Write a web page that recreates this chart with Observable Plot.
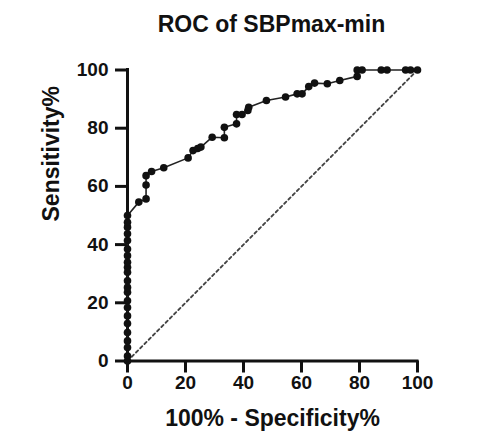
<!DOCTYPE html>
<html><head><meta charset="utf-8">
<script src="https://cdn.jsdelivr.net/npm/d3@7"></script>
<script src="https://cdn.jsdelivr.net/npm/@observablehq/plot@0.6"></script>
<style>
body{margin:0;background:#fff;font-family:"Liberation Sans",Arial,sans-serif;}
#title{width:491px;height:40px;box-sizing:border-box;padding-top:13px;padding-left:52px;text-align:center;font-weight:bold;font-size:23px;line-height:23px;color:#111;white-space:nowrap;}
</style></head><body>
<div id="title"></div>
<div id="chart"></div>
<script>
const titleText = "ROC of SBPmax-min";
const xLabel = "100% - Specificity%";
const yLabel = "Sensitivity%";
const xTicks = [0, 20, 40, 60, 80, 100];
const yTicks = [0, 20, 40, 60, 80, 100];
// 100% - Specificity% (x) and Sensitivity% (y) for each ROC point
const fpr = [0,0,0,0,0,0,0,0,0,0,0,0,0,0,0,0,0,0,0,0,0,0,
  3.9, 6.4, 6.4, 6.4, 8.3, 12.5, 20.9, 22.6, 24.2, 25.3, 29.2, 33.4, 33.4, 37.6, 37.6, 39.5, 41.5, 41.8,
  47.9, 54.5, 58.5, 60.2, 62.5, 64.5, 68.9, 73.2, 79.2, 79.2, 80.9, 87.5, 89.5, 95.9, 97.6, 100];
const tpr = [0, 1.7, 4.6, 6.9, 9.8, 12.9, 15.5, 18.4, 20.7, 23.6, 25.3, 27.6, 30.5, 32.2, 33.9, 36.2, 38.5, 41.4, 43.7, 46.0, 47.7, 50.0,
  54.6, 55.7, 60.5, 63.7, 65.1, 66.4, 69.8, 72.3, 73.0, 73.5, 76.9, 76.7, 80.3, 81.5, 84.7, 84.7, 86.1, 87.2,
  89.5, 90.7, 91.8, 91.8, 94.3, 95.5, 95.3, 96.4, 97.8, 100, 100, 100, 100, 100, 100, 100];
const chanceX = [0, 100];
const chanceY = [0, 100];

document.getElementById("title").textContent = titleText;
const roc = fpr.map((x, i) => ({x, y: tpr[i]}));
const chance = chanceX.map((x, i) => ({x, y: chanceY[i]}));

const chart = Plot.plot({
  width: 491, height: 401,
  marginLeft: 127, marginRight: 74, marginTop: 29.5, marginBottom: 80.5,
  style: {fontFamily: "'Liberation Sans', Arial, sans-serif", fontSize: "19px", fontWeight: "bold", color: "#111", background: "#fff", overflow: "visible"},
  x: {domain: [0, 100]},
  y: {domain: [0, 100]},
  marks: [
    Plot.line(chance, {x: "x", y: "y", stroke: "#444", strokeWidth: 1.8, strokeDasharray: "3,3"}),
    Plot.ruleX([0], {y1: 0, y2: 100, stroke: "#111", strokeWidth: 3, strokeLinecap: "square"}),
    Plot.ruleY([0], {x1: 0, x2: 100, stroke: "#111", strokeWidth: 3, strokeLinecap: "square"}),
    Plot.axisX({ticks: xTicks, tickSize: 12, tickPadding: 2, stroke: "#111", strokeWidth: 3, label: null, fontSize: 19, fontWeight: "bold", fill: "#111"}),
    Plot.axisY({ticks: yTicks, tickSize: 12, tickPadding: 7, stroke: "#111", strokeWidth: 3, label: null, fontSize: 19, fontWeight: "bold", fill: "#111"}),
    Plot.line(roc, {x: "x", y: "y", stroke: "#222", strokeWidth: 1.6}),
    Plot.dot(roc, {x: "x", y: "y", r: 3.8, fill: "#111", stroke: "none"}),
    Plot.text([xLabel], {text: d => d, frameAnchor: "bottom", dy: 65, fontSize: 23, fontWeight: "bold", fill: "#111"}),
    Plot.text([yLabel], {text: d => d, frameAnchor: "left", dx: -76, dy: 6, rotate: -90, fontSize: 23, fontWeight: "bold", fill: "#111"})
  ]
});
document.getElementById("chart").appendChild(chart);
</script>
</body></html>
